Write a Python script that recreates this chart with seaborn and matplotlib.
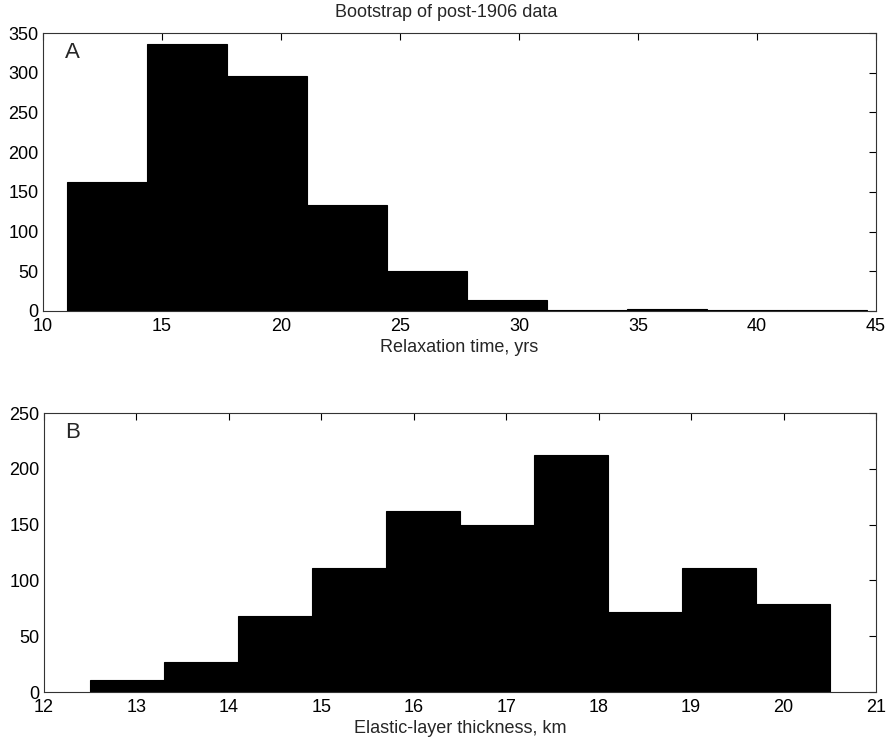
import numpy as np
import pandas as pd
import matplotlib
matplotlib.use("Agg")
import matplotlib.pyplot as plt
import seaborn as sns

# Panel A: relaxation time histogram
edges_a = [11.0, 14.36, 17.72, 21.08, 24.44, 27.8, 31.16, 34.52, 37.88, 41.24, 44.6]
counts_a = [163, 336, 296, 134, 50, 14, 1, 3, 1, 1]
xticks_a = [10, 15, 20, 25, 30, 35, 40, 45]
yticks_a = [0, 50, 100, 150, 200, 250, 300, 350]

# Panel B: elastic-layer thickness histogram
edges_b = [12.5, 13.3, 14.1, 14.9, 15.7, 16.5, 17.3, 18.1, 18.9, 19.7, 20.5]
counts_b = [11, 27, 68, 111, 162, 150, 212, 72, 111, 79]
xticks_b = [12, 13, 14, 15, 16, 17, 18, 19, 20, 21]
yticks_b = [0, 50, 100, 150, 200, 250]

sns.set_style("white")
plt.rcParams['font.family'] = ['Liberation Sans', 'DejaVu Sans']
plt.rcParams['font.size'] = 13

fig = plt.figure(figsize=(8.93, 7.45), dpi=100)
ax1 = fig.add_axes([0.048, 0.5826, 0.933, 0.3731])
ax2 = fig.add_axes([0.049, 0.0711, 0.932, 0.3745])

def draw(ax, edges, counts, xticks, yticks, xlabel, letter):
    e = np.array(edges, dtype=float)
    df = pd.DataFrame({'x': (e[:-1] + e[1:]) / 2, 'w': counts})
    sns.histplot(data=df, x='x', weights='w', bins=list(edges), ax=ax,
                 color='black', edgecolor='black', alpha=1, linewidth=0.8)
    ax.set_xlim(xticks[0], xticks[-1])
    ax.set_ylim(yticks[0], yticks[-1])
    ax.set_xticks(xticks)
    ax.set_yticks(yticks)
    ax.set_xlabel(xlabel, fontsize=13, labelpad=3)
    ax.set_ylabel('')
    ax.tick_params(direction='in', top=True, right=True, length=5, width=0.8,
                   labelsize=13, colors='black')
    ax.tick_params(axis='x', pad=5)
    ax.tick_params(axis='y', pad=3)
    for s in ax.spines.values():
        s.set_visible(True)
        s.set_color('#333333')
        s.set_linewidth(0.8)
    ax.text(0.035, 0.93, letter, transform=ax.transAxes, fontsize=16,
            ha='center', va='center')

draw(ax1, edges_a, counts_a, xticks_a, yticks_a, 'Relaxation time, yrs', 'A')
draw(ax2, edges_b, counts_b, xticks_b, yticks_b, 'Elastic-layer thickness, km', 'B')
fig.text(0.5, 0.983, 'Bootstrap of post-1906 data', ha='center', va='center', fontsize=13)

fig.savefig('out.png', dpi=100)
